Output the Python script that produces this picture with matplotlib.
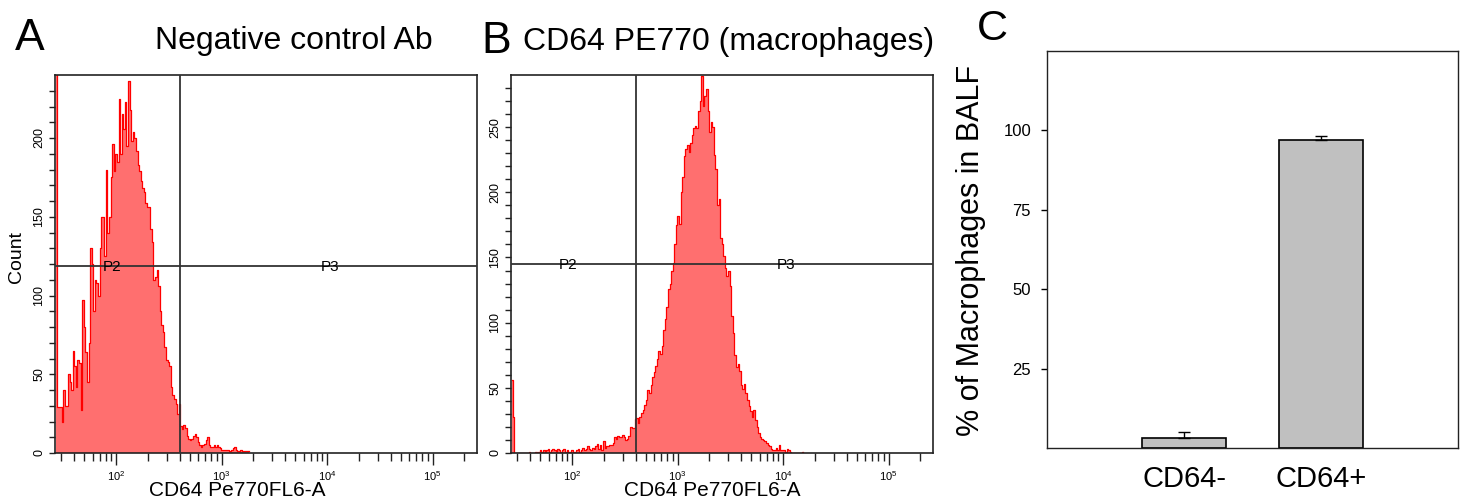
import numpy as np
import matplotlib
matplotlib.use("Agg")
import matplotlib.pyplot as plt
from matplotlib.ticker import LogLocator, FixedLocator, NullFormatter, LogFormatterSciNotation

plt.rcParams['font.family'] = ['Liberation Sans', 'DejaVu Sans']

# histogram bins: log10 start and width of each channel
bin_start = 1.43
bin_step = 0.015

# A - negative control Ab, counts per channel
counts_neg = [400, 29, 29, 29, 20, 40, 30, 30, 50, 45, 40, 65, 55, 42, 59, 57, 27, 97, 80, 64,
              45, 70, 130, 120, 90, 110, 108, 100, 130, 150, 150, 125, 180, 140, 150, 175, 196,
              179, 190, 185, 225, 190, 215, 206, 223, 195, 236, 218, 198, 204, 200, 192, 183,
              179, 173, 168, 166, 159, 156, 156, 142, 134, 110, 112, 116, 106, 90, 81, 77, 67,
              59, 58, 55, 42, 37, 34, 31, 25, 31, 17, 15, 18, 16, 11, 9, 8, 9, 11, 12, 10, 7,
              5, 4, 5, 6, 8, 10, 5, 4, 4, 5, 4, 5, 4, 3, 2, 2, 2, 2, 2, 1, 2, 3, 4, 2, 1, 1,
              2, 1, 1, 1, 1, 1]

# B - CD64 PE770 (macrophages), counts per channel
counts_cd64 = [56, 28, 0, 0, 0, 0, 0, 0, 0, 0, 0, 1, 0, 0, 0, 1, 0, 1, 2, 1, 2, 1, 2, 3, 1,
               2, 3, 2, 1, 3, 2, 1, 2, 3, 1, 2, 1, 1, 2, 1, 1, 2, 3, 1, 2, 4, 2, 3, 5, 3, 2,
               4, 3, 5, 7, 3, 6, 2, 9, 4, 5, 5.5, 6, 6, 8, 12, 11, 13, 12, 12, 14, 12, 10, 11,
               13, 20, 19, 19, 26, 27, 23, 28, 31, 33, 37, 41, 48, 46, 52, 58, 62, 67, 72, 78,
               76, 82, 94, 103, 112, 126, 130, 140, 146, 160, 175, 182, 176, 200, 212, 228,
               233, 236, 231, 238, 244, 249, 251, 249, 262, 270, 289, 266, 274, 279, 262, 246,
               254, 250, 229, 218, 190, 195, 165, 160, 151, 142, 136, 140, 128, 105, 92, 75,
               66, 68, 63, 52, 49, 53, 46, 41, 36, 32, 28, 33, 25, 20, 15, 12.6, 11, 10, 9, 8,
               6, 5, 3, 2, 2, 4, 2, 6, 2, 2, 2, 1, 3, 2, 1, 0, 0, 0, 0, 0, 0, 0, 1]

# gates
gate_x = 405
gate_y_neg = 119
gate_y_cd64 = 145
p2_x = 92
p3_x = 10700

# C - bar chart
categories = ['CD64-', 'CD64+']
pct_macro = [3.0, 97.0]
pct_err = [2.0, 1.3]

W, H = 1460, 504
fig = plt.figure(figsize=(W / 100, H / 100), dpi=100)
axA = fig.add_axes([55 / W, 51 / H, 422 / W, 378 / H])
axB = fig.add_axes([511 / W, 51 / H, 422 / W, 378 / H])
axC = fig.add_axes([1047 / W, 56 / H, 411 / W, 397 / H])


def draw_hist(ax, counts, ymax, gate_y):
    x = 10 ** (bin_start + bin_step * np.arange(len(counts)))
    ax.fill_between(x, counts, step='mid', color='#ff6f6f', lw=0, zorder=1)
    ax.step(x, counts, where='mid', color='red', lw=0.9, zorder=2)
    ax.set_xscale('log')
    ax.set_xlim(10 ** 1.42, 10 ** 5.42)
    ax.set_ylim(0, ymax)
    ax.axvline(gate_x, color='#333333', lw=1.3, zorder=3)
    ax.axhline(gate_y, color='#333333', lw=1.3, zorder=3)
    ax.text(p2_x, gate_y - 1, 'P2', fontsize=11, ha='center', va='center', zorder=4)
    ax.text(p3_x, gate_y - 1, 'P3', fontsize=11, ha='center', va='center', zorder=4)

    ax.xaxis.set_major_locator(LogLocator(base=10, numticks=10))
    ax.xaxis.set_minor_locator(LogLocator(base=10, subs=np.arange(2, 10), numticks=20))
    ax.xaxis.set_major_formatter(LogFormatterSciNotation())
    ax.xaxis.set_minor_formatter(NullFormatter())
    ax.tick_params(axis='x', which='major', length=8.5, width=1, pad=3, labelsize=8, color='#222222')
    ax.tick_params(axis='x', which='minor', length=6, width=1, color='#222222')

    ax.yaxis.set_major_locator(FixedLocator(np.arange(0, ymax, 50)))
    ax.yaxis.set_minor_locator(FixedLocator(np.arange(0, ymax, 10)))
    ax.tick_params(axis='y', which='both', length=4, width=1, pad=3, labelsize=9, color='#222222')
    for lab in ax.get_yticklabels():
        lab.set_rotation(90)
        lab.set_va('center')
    for sp in ax.spines.values():
        sp.set_linewidth(1.2)
        sp.set_color('#222222')


draw_hist(axA, counts_neg, 240, gate_y_neg)
draw_hist(axB, counts_cd64, 290, gate_y_cd64)

# panel C
pos = np.arange(1, len(categories) + 1)
axC.bar(pos, pct_macro, width=0.61, color='#c0c0c0', edgecolor='black', lw=1.2, zorder=1)
axC.errorbar(pos, pct_macro, yerr=[np.zeros(len(pct_err)), pct_err], fmt='none',
             ecolor='black', elinewidth=1, capsize=4.5, capthick=1, zorder=2)
axC.set_xlim(0, 3)
axC.set_ylim(0, 125)
axC.set_xticks(pos)
axC.set_xticklabels(categories, fontsize=21)
axC.set_yticks([25, 50, 75, 100])
axC.tick_params(axis='x', length=0, pad=12)
axC.tick_params(axis='y', length=4.5, width=1, pad=7, labelsize=12)
for sp in axC.spines.values():
    sp.set_linewidth(1)
    sp.set_color('#222222')

# texts
fig.text(15 / W, 1 - 50 / H, 'A', fontsize=32, va='baseline')
fig.text(155 / W, 1 - 49 / H, 'Negative control Ab', fontsize=23, va='baseline')
fig.text(481 / W, 1 - 53 / H, 'B', fontsize=32, va='baseline')
fig.text(523 / W, 1 - 50 / H, 'CD64 PE770 (macrophages)', fontsize=23, va='baseline')
fig.text(977 / W, 1 - 40 / H, 'C', fontsize=31, va='baseline')
fig.text(16 / W, 1 - 257 / H, 'Count', fontsize=14, rotation=90, ha='center', va='center')
fig.text(237 / W, 1 - 491 / H, 'CD64 Pe770FL6-A', fontsize=15, ha='center', va='center')
fig.text(712 / W, 1 - 491 / H, 'CD64 Pe770FL6-A', fontsize=15, ha='center', va='center')
fig.text(971 / W, 1 - 250 / H, '% of Macrophages in BALF', fontsize=22, rotation=90,
         ha='center', va='center')

fig.savefig('out.png', dpi=100)
